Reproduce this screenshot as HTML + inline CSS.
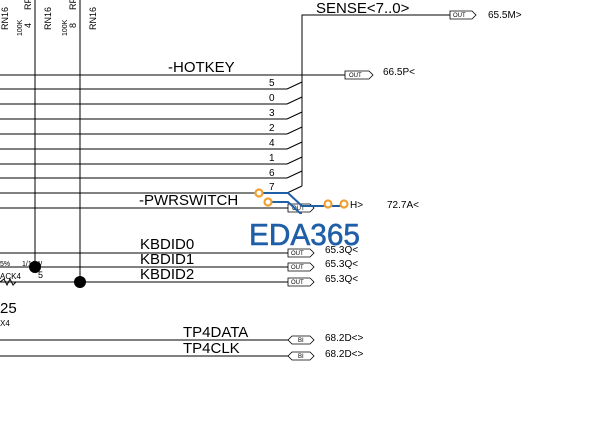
<!DOCTYPE html>
<html><head><style>
body{margin:0;background:#fff}
svg{display:block;font-family:"Liberation Sans",sans-serif}
</style></head><body>
<svg width="614" height="434" viewBox="0 0 614 434">
<g stroke="#000" stroke-width="1" fill="none">
<line x1="35" y1="0" x2="35" y2="268"/>
<line x1="80" y1="0" x2="80" y2="283"/>
<polyline points="302,186 302,15 450,15"/>
<line x1="0" y1="75" x2="345" y2="75"/>
<line x1="0" y1="89" x2="287" y2="89"/><line x1="287" y1="89" x2="302" y2="82"/>
<line x1="0" y1="104" x2="287" y2="104"/><line x1="287" y1="104" x2="302" y2="97"/>
<line x1="0" y1="119" x2="287" y2="119"/><line x1="287" y1="119" x2="302" y2="112"/>
<line x1="0" y1="134" x2="287" y2="134"/><line x1="287" y1="134" x2="302" y2="127"/>
<line x1="0" y1="149" x2="287" y2="149"/><line x1="287" y1="149" x2="302" y2="142"/>
<line x1="0" y1="164" x2="287" y2="164"/><line x1="287" y1="164" x2="302" y2="157"/>
<line x1="0" y1="178" x2="287" y2="178"/><line x1="287" y1="178" x2="302" y2="171"/>
<line x1="0" y1="193" x2="288" y2="193"/><line x1="287" y1="193" x2="302" y2="186"/>
<line x1="0" y1="208" x2="288" y2="208"/>
<line x1="0" y1="253" x2="288" y2="253"/>
<line x1="0" y1="267" x2="288" y2="267"/>
<line x1="0" y1="282" x2="288" y2="282"/>
<line x1="0" y1="340" x2="288" y2="340"/>
<line x1="0" y1="356" x2="288" y2="356"/>
<polyline points="0,282 4,279 7,285 10,279 13,285 16,282 20,282"/>
</g>
<g fill="#000"><circle cx="35" cy="267" r="6"/><circle cx="80" cy="282" r="6"/></g>
<g stroke="#000" stroke-width="0.8" fill="#fff">
<path d="M450,11 h22 l4,4 l-4,4 h-22z"/>
<path d="M345,71 h24 l4,4 l-4,4 h-24z"/>
<path d="M288,204 h22 l4,4 l-4,4 h-22z"/>
<path d="M288,249 h22 l4,4 l-4,4 h-22z"/>
<path d="M288,263 h22 l4,4 l-4,4 h-22z"/>
<path d="M288,278 h22 l4,4 l-4,4 h-22z"/>
<path d="M292,336 h18 l4,4 l-4,4 h-18 l-4,-4z"/>
<path d="M292,352 h18 l4,4 l-4,4 h-18 l-4,-4z"/>
</g>
<g font-size="6" fill="#000">
<text x="292" y="210">OUT</text><text x="291" y="255">OUT</text><text x="291" y="269">OUT</text><text x="291" y="284">OUT</text>
<text x="453" y="17">OUT</text><text x="349" y="77">OUT</text>
<text x="298" y="342">BI</text><text x="298" y="358">BI</text>
</g>
<g stroke="#1f5fa8" stroke-width="2" fill="none">
<polyline points="259,193 288,193 302,206 330,206"/>
<polyline points="268,202 288,202 300,213 302,213"/>
<line x1="330" y1="206" x2="345" y2="206"/>
</g>
<g stroke="#f0a030" stroke-width="2.2" fill="#fff">
<circle cx="259" cy="193" r="3.5"/><circle cx="268" cy="202" r="3.5"/>
<circle cx="328" cy="204" r="3.5"/><circle cx="344" cy="204" r="3.5"/>
</g>
<g fill="#000">
<text x="316" y="13" font-size="15">SENSE&lt;7..0&gt;</text>
<text x="488" y="18" font-size="10">65.5M&gt;</text>
<text x="168" y="72" font-size="15">-HOTKEY</text>
<text x="383" y="75" font-size="10">66.5P&lt;</text>
<g font-size="10">
<text x="269" y="86">5</text><text x="269" y="101">0</text><text x="269" y="116">3</text><text x="269" y="131">2</text>
<text x="269" y="146">4</text><text x="269" y="161">1</text><text x="269" y="176">6</text><text x="269" y="190">7</text>
</g>
<text x="139" y="205" font-size="15">-PWRSWITCH</text>
<text x="350" y="208" font-size="10">H&gt;</text>
<text x="387" y="208" font-size="10">72.7A&lt;</text>
<text x="140" y="249" font-size="15">KBDID0</text>
<text x="140" y="264" font-size="15">KBDID1</text>
<text x="140" y="279" font-size="15">KBDID2</text>
<text x="325" y="253" font-size="10">65.3Q&lt;</text>
<text x="325" y="267" font-size="10">65.3Q&lt;</text>
<text x="325" y="282" font-size="10">65.3Q&lt;</text>
<text x="183" y="337" font-size="15">TP4DATA</text>
<text x="183" y="353" font-size="15">TP4CLK</text>
<text x="325" y="341" font-size="10">68.2D&lt;&gt;</text>
<text x="325" y="357" font-size="10">68.2D&lt;&gt;</text>
<text x="0" y="313" font-size="15">25</text>
<text x="0" y="326" font-size="8">X4</text>
<text x="0" y="266" font-size="7">5%</text>
<text x="0" y="279" font-size="8">ACK4</text>
<text x="22" y="266" font-size="7">1/16W</text>
<text x="38" y="278" font-size="9">5</text>
<g font-size="9">
<text transform="translate(8,30) rotate(-90)">RN16</text>
<text transform="translate(51,30) rotate(-90)">RN16</text>
<text transform="translate(96,30) rotate(-90)">RN16</text>
<text transform="translate(22,36) rotate(-90)" font-size="7">100K</text>
<text transform="translate(67,36) rotate(-90)" font-size="7">100K</text>
<text transform="translate(31,10) rotate(-90)">RP</text>
<text transform="translate(76,10) rotate(-90)">RP</text>
<text transform="translate(31,28) rotate(-90)">4</text>
<text transform="translate(76,28) rotate(-90)">8</text>
</g>
</g>
<text x="249" y="245" font-size="31" textLength="111" lengthAdjust="spacingAndGlyphs" fill="#1f5fa8" stroke="#1f5fa8" stroke-width="0.6" font-family="Liberation Sans,sans-serif">EDA365</text>
</svg>
</body></html>
